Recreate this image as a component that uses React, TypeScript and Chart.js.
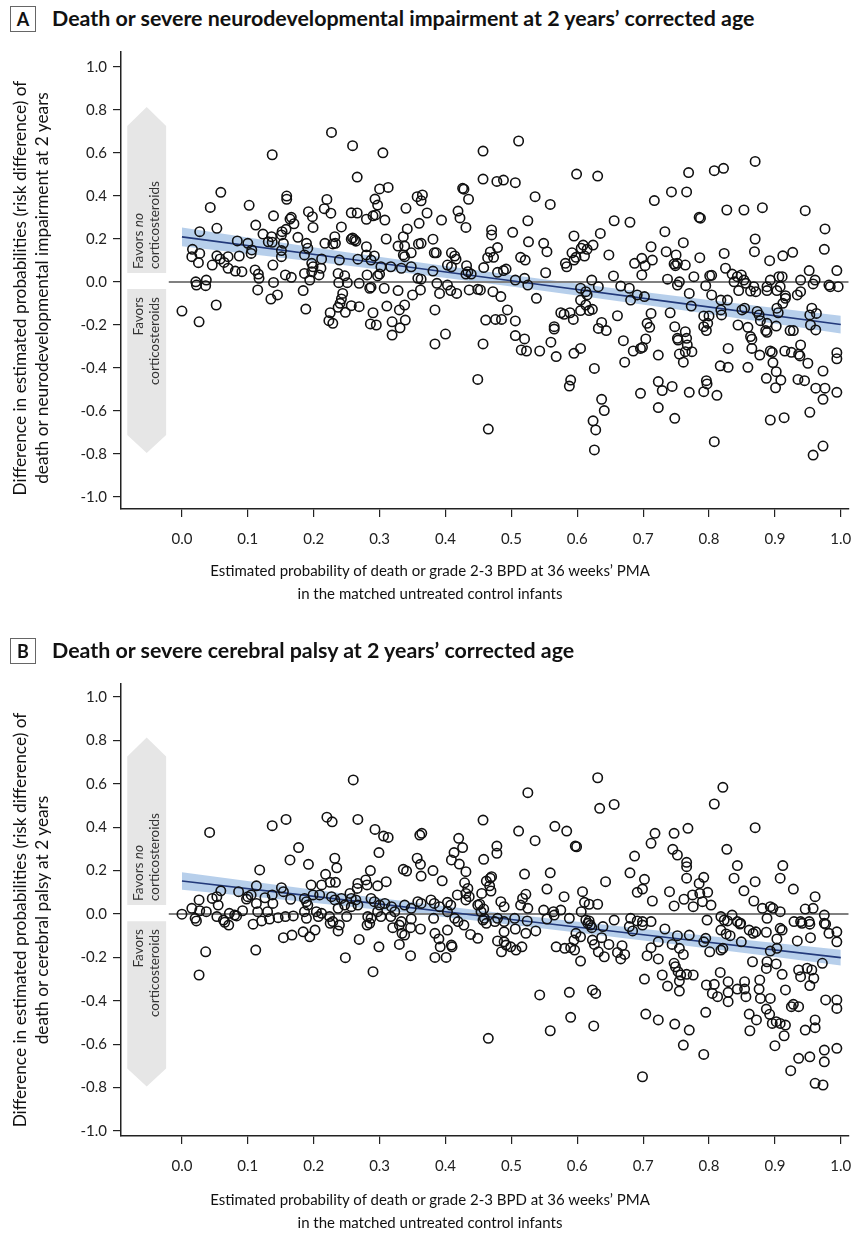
import React, { useEffect, useRef } from "react";
import { Chart, registerables } from "chart.js";

Chart.register(...registerables);

// ---------- axes ----------
const X_TICKS = [0, 0.1, 0.2, 0.3, 0.4, 0.5, 0.6, 0.7, 0.8, 0.9, 1.0];
const Y_TICKS = [-1.0, -0.8, -0.6, -0.4, -0.2, 0.0, 0.2, 0.4, 0.6, 0.8, 1.0];
const X_RANGE = [-0.0925, 1.012];
const ZERO_LINE_X = [-0.02, 1.012];

// ---------- favour arrows (value units) ----------
const ARROW_X = [-0.083, -0.024];
const UP_ARROW_Y = [0.042, 0.726, 0.814];
const DOWN_ARROW_Y = [-0.033, -0.712, -0.795];

// ---------- fitted lines & 95% bands ----------
const FIT_X = [0, 0.25, 0.5, 0.75, 1.0];
const A_FIT = [0.21, 0.108, 0.006, -0.096, -0.198];
const A_UPPER = [0.254, 0.139, 0.033, -0.065, -0.157];
const A_LOWER = [0.166, 0.077, -0.021, -0.127, -0.239];
const B_FIT = [0.152, 0.064, -0.025, -0.113, -0.201];
const B_UPPER = [0.192, 0.092, -0.001, -0.085, -0.165];
const B_LOWER = [0.112, 0.036, -0.049, -0.141, -0.237];

// ---------- panel A points (x = estimated probability, y = risk difference) ----------
const A_POINTS: [number, number][] = [
  [0.227,0.696],[0.259,0.634],[0.305,0.601],[0.137,0.592],[0.457,0.609],[0.266,0.488],[0.457,0.479],[0.478,0.468],[0.488,0.474],[0.059,0.417],
  [0.300,0.433],[0.313,0.440],[0.426,0.436],[0.428,0.432],[0.435,0.385],[0.159,0.400],[0.159,0.385],[0.220,0.384],[0.357,0.397],[0.365,0.405],
  [0.363,0.378],[0.043,0.347],[0.102,0.357],[0.216,0.341],[0.226,0.320],[0.293,0.386],[0.297,0.358],[0.192,0.327],[0.198,0.304],[0.257,0.322],
  [0.266,0.321],[0.340,0.343],[0.372,0.321],[0.419,0.330],[0.422,0.298],[0.139,0.308],[0.164,0.293],[0.166,0.301],[0.170,0.271],[0.280,0.292],
  [0.290,0.308],[0.294,0.312],[0.308,0.288],[0.394,0.288],[0.112,0.265],[0.053,0.250],[0.027,0.234],[0.199,0.254],[0.242,0.256],[0.360,0.273],
  [0.431,0.254],[0.342,0.247],[0.336,0.211],[0.470,0.242],[0.470,0.219],[0.123,0.223],[0.152,0.234],[0.158,0.245],[0.151,0.219],[0.136,0.211],
  [0.131,0.187],[0.137,0.185],[0.176,0.208],[0.259,0.205],[0.262,0.196],[0.257,0.199],[0.264,0.190],[0.232,0.211],[0.233,0.180],[0.229,0.177],
  [0.310,0.200],[0.084,0.191],[0.100,0.180],[0.106,0.149],[0.105,0.133],[0.154,0.180],[0.151,0.146],[0.151,0.118],[0.189,0.180],[0.191,0.157],
  [0.217,0.180],[0.280,0.164],[0.280,0.126],[0.328,0.167],[0.338,0.167],[0.336,0.126],[0.338,0.118],[0.348,0.136],[0.363,0.180],[0.359,0.177],
  [0.381,0.199],[0.383,0.136],[0.386,0.136],[0.409,0.136],[0.414,0.121],[0.416,0.106],[0.403,0.079],[0.409,0.071],[0.432,0.076],[0.434,0.048],
  [0.439,0.037],[0.431,0.037],[0.458,0.067],[0.468,0.140],[0.464,0.113],[0.473,0.115],[0.479,0.160],[0.479,0.045],[0.488,0.053],[0.492,0.060],
  [0.016,0.152],[0.027,0.133],[0.015,0.118],[0.025,0.090],[0.053,0.122],[0.058,0.107],[0.064,0.091],[0.046,0.079],[0.070,0.118],[0.087,0.121],
  [0.070,0.064],[0.081,0.051],[0.091,0.048],[0.111,0.056],[0.116,0.037],[0.117,0.017],[0.138,0.079],[0.157,0.033],[0.166,0.022],[0.186,0.126],
  [0.197,0.087],[0.199,0.071],[0.186,0.040],[0.197,0.048],[0.208,0.033],[0.212,0.107],[0.211,0.064],[0.239,0.102],[0.237,0.040],[0.247,0.029],
  [0.238,-0.003],[0.267,0.106],[0.281,0.033],[0.300,0.037],[0.297,0.028],[0.292,0.121],[0.287,0.102],[0.302,0.071],[0.317,0.071],[0.333,0.064],
  [0.348,0.071],[0.358,0.017],[0.363,0.013],[0.381,0.051],[0.021,0.001],[0.037,0.009],[0.036,-0.017],[0.022,-0.014],[0.139,-0.002],[0.115,-0.037],
  [0.145,-0.060],[0.135,-0.079],[0.184,-0.040],[0.194,0.009],[0.251,-0.003],[0.269,-0.006],[0.285,-0.029],[0.287,-0.024],[0.307,-0.029],[0.328,-0.040],
  [0.350,-0.060],[0.362,-0.037],[0.244,-0.053],[0.242,-0.079],[0.387,-0.006],[0.403,-0.014],[0.408,-0.040],[0.417,-0.053],[0.391,-0.053],[0.436,-0.037],
  [0.449,-0.034],[0.453,-0.037],[0.472,-0.045],[0.484,-0.068],
  [0.511,0.656],[0.599,0.502],[0.631,0.493],[0.506,0.462],[0.536,0.397],[0.559,0.361],[0.769,0.509],[0.808,0.518],[0.822,0.529],[0.870,0.561],
  [0.717,0.379],[0.743,0.419],[0.766,0.419],[0.785,0.301],[0.787,0.297],[0.827,0.335],[0.853,0.335],[0.881,0.346],[0.946,0.332],[0.525,0.285],
  [0.656,0.285],[0.680,0.278],[0.502,0.231],[0.733,0.234],[0.635,0.226],[0.595,0.214],[0.526,0.187],[0.549,0.180],[0.554,0.141],[0.609,0.172],
  [0.606,0.157],[0.624,0.172],[0.615,0.152],[0.592,0.136],[0.712,0.164],[0.761,0.183],[0.870,0.200],[0.976,0.247],[0.735,0.141],[0.750,0.126],
  [0.869,0.141],[0.927,0.138],[0.912,0.122],[0.975,0.152],[0.514,0.115],[0.521,0.102],[0.582,0.087],[0.584,0.071],[0.595,0.102],[0.598,0.115],
  [0.611,0.121],[0.648,0.126],[0.687,0.087],[0.698,0.110],[0.703,0.076],[0.714,0.102],[0.747,0.084],[0.749,0.076],[0.752,0.087],[0.764,0.079],
  [0.786,0.113],[0.823,0.133],[0.892,0.099],[0.552,0.043],[0.506,0.009],[0.520,0.017],[0.525,-0.014],[0.622,0.009],[0.632,-0.022],[0.605,-0.029],
  [0.613,-0.045],[0.655,0.028],[0.666,-0.019],[0.679,-0.029],[0.698,0.033],[0.737,0.013],[0.752,-0.014],[0.755,0.001],[0.777,0.025],[0.795,-0.017],
  [0.801,0.029],[0.804,0.031],[0.825,0.064],[0.835,0.037],[0.843,0.025],[0.849,0.033],[0.838,0.001],[0.853,0.009],[0.856,-0.006],[0.868,-0.022],
  [0.871,-0.045],[0.845,-0.040],[0.893,0.009],[0.888,-0.022],[0.906,0.025],[0.911,0.025],[0.908,-0.022],[0.916,-0.064],[0.939,0.009],[0.952,0.053],
  [0.961,0.009],[0.958,-0.009],[0.982,-0.014],[0.984,-0.022],[0.994,0.053],[0.996,-0.022],[0.934,-0.060],[0.939,-0.045],[0.538,-0.076],[0.605,-0.084],
  [0.615,-0.060],[0.681,-0.084],[0.702,-0.068],[0.691,-0.060],[0.770,-0.053],[0.818,-0.084],[0.828,-0.084],
  [0.506,-0.181],[0.613,-0.107],[0.605,-0.133],[0.618,-0.133],[0.623,-0.127],[0.575,-0.143],[0.580,-0.150],[0.589,-0.143],[0.594,-0.174],[0.565,-0.208],
  [0.565,-0.219],[0.506,-0.249],[0.520,-0.265],[0.515,-0.316],[0.523,-0.321],[0.543,-0.321],[0.560,-0.280],[0.568,-0.347],[0.595,-0.332],[0.605,-0.309],
  [0.632,-0.216],[0.644,-0.226],[0.637,-0.188],[0.661,-0.157],[0.626,-0.402],[0.590,-0.456],[0.588,-0.484],[0.637,-0.546],[0.641,-0.598],[0.624,-0.646],
  [0.628,-0.688],[0.626,-0.781],[0.670,-0.273],[0.672,-0.373],[0.685,-0.321],[0.696,-0.309],[0.699,-0.304],[0.704,-0.265],[0.706,-0.192],[0.710,-0.211],
  [0.712,-0.146],[0.741,-0.143],[0.748,-0.208],[0.723,-0.340],[0.723,-0.463],[0.729,-0.505],[0.744,-0.486],[0.696,-0.518],[0.723,-0.584],[0.748,-0.634],
  [0.752,-0.262],[0.753,-0.270],[0.764,-0.231],[0.766,-0.262],[0.767,-0.293],[0.755,-0.335],[0.761,-0.373],[0.764,-0.324],[0.774,-0.324],[0.773,-0.112],
  [0.804,-0.060],[0.818,-0.130],[0.819,-0.153],[0.792,-0.158],[0.800,-0.158],[0.792,-0.208],[0.796,-0.226],[0.798,-0.192],[0.770,-0.513],[0.792,-0.510],
  [0.796,-0.459],[0.797,-0.474],[0.812,-0.527],[0.808,-0.743],[0.817,-0.390],[0.829,-0.397],[0.829,-0.309],[0.844,-0.200],[0.850,-0.130],[0.854,-0.122],
  [0.859,-0.211],[0.863,-0.254],[0.865,-0.266],[0.865,-0.309],[0.859,-0.397],[0.863,-0.042],[0.888,-0.040],[0.903,-0.040],[0.873,-0.137],[0.876,-0.153],
  [0.878,-0.180],[0.888,-0.192],[0.886,-0.226],[0.888,-0.234],[0.902,-0.205],[0.903,-0.122],[0.905,-0.143],[0.912,-0.099],[0.916,-0.076],[0.877,-0.340],
  [0.893,-0.321],[0.896,-0.327],[0.897,-0.375],[0.902,-0.417],[0.909,-0.456],[0.887,-0.448],[0.901,-0.492],[0.893,-0.642],[0.914,-0.631],[0.923,-0.226],
  [0.928,-0.226],[0.915,-0.321],[0.925,-0.327],[0.936,-0.336],[0.938,-0.344],[0.939,-0.293],[0.950,-0.378],[0.953,-0.153],[0.956,-0.122],[0.963,-0.146],
  [0.962,-0.223],[0.954,-0.200],[0.935,-0.453],[0.945,-0.459],[0.962,-0.494],[0.976,-0.494],[0.973,-0.546],[0.973,-0.414],[0.994,-0.329],[0.994,-0.357],
  [0.994,-0.513],[0.953,-0.606],[0.958,-0.805],[0.973,-0.763],
  [0.000,-0.135],[0.026,-0.185],[0.052,-0.107],[0.188,-0.126],[0.225,-0.143],[0.223,-0.180],[0.229,-0.192],[0.237,-0.118],[0.240,-0.099],[0.248,-0.141],
  [0.257,-0.110],[0.269,-0.115],[0.290,-0.143],[0.286,-0.195],[0.295,-0.200],[0.311,-0.112],[0.319,-0.185],[0.319,-0.247],[0.331,-0.213],[0.330,-0.130],
  [0.338,-0.107],[0.339,-0.177],[0.384,-0.130],[0.384,-0.288],[0.400,-0.242],[0.461,-0.177],[0.476,-0.174],[0.485,-0.174],[0.494,-0.130],[0.457,-0.288],
  [0.449,-0.453],[0.465,-0.684],
];

// ---------- panel B points ----------
const B_POINTS: [number, number][] = [
  [0.260,0.618],[0.042,0.376],[0.137,0.407],[0.158,0.436],[0.220,0.446],[0.228,0.425],[0.267,0.436],[0.293,0.390],[0.306,0.359],[0.313,0.353],
  [0.457,0.433],[0.361,0.364],[0.364,0.372],[0.420,0.349],[0.426,0.306],[0.413,0.283],[0.409,0.249],[0.421,0.230],[0.431,0.195],[0.478,0.313],
  [0.478,0.280],[0.458,0.252],[0.177,0.306],[0.164,0.249],[0.192,0.229],[0.232,0.257],[0.235,0.213],[0.218,0.183],[0.225,0.146],[0.233,0.146],
  [0.299,0.283],[0.118,0.203],[0.286,0.200],[0.279,0.157],[0.281,0.134],[0.267,0.141],[0.266,0.118],[0.310,0.149],[0.297,0.130],[0.357,0.257],
  [0.362,0.229],[0.363,0.175],[0.336,0.206],[0.341,0.198],[0.381,0.200],[0.395,0.153],[0.429,0.144],[0.434,0.118],[0.431,0.095],[0.436,0.080],
  [0.431,0.065],[0.418,0.088],[0.403,0.054],[0.408,0.041],[0.462,0.152],[0.468,0.165],[0.470,0.172],[0.467,0.130],[0.469,0.106],[0.455,0.095],
  [0.452,0.045],[0.458,0.023],[0.484,0.057],[0.489,0.034],[0.059,0.107],[0.046,0.072],[0.053,0.080],[0.055,0.041],[0.026,0.065],[0.015,0.026],
  [0.027,0.015],[0.037,0.011],[0.000,-0.001],[0.020,-0.020],[0.022,-0.032],[0.086,0.103],[0.100,0.080],[0.098,0.069],[0.105,0.088],[0.113,0.130],
  [0.113,0.049],[0.126,0.075],[0.137,0.088],[0.138,0.049],[0.151,0.121],[0.154,0.103],[0.165,0.068],[0.130,0.011],[0.115,0.011],[0.092,0.015],
  [0.072,0.003],[0.063,-0.028],[0.080,-0.005],[0.186,0.072],[0.189,0.057],[0.191,0.041],[0.199,0.088],[0.209,0.088],[0.212,0.134],[0.196,0.134],
  [0.186,0.011],[0.204,0.011],[0.212,0.003],[0.227,0.080],[0.232,0.065],[0.242,0.072],[0.255,0.095],[0.257,0.072],[0.247,0.041],[0.237,0.026],
  [0.257,0.034],[0.267,0.041],[0.264,0.065],[0.287,0.072],[0.292,0.057],[0.300,0.041],[0.308,0.049],[0.318,0.034],[0.323,0.011],[0.297,0.011],
  [0.338,0.041],[0.348,0.026],[0.358,0.057],[0.363,0.049],[0.378,0.065],[0.383,0.049],[0.391,0.034],[0.403,0.011],[0.414,-0.020],[0.419,-0.035],
  [0.449,0.041],[0.454,0.011],[0.459,-0.020],[0.479,-0.020],[0.489,-0.035],
  [0.631,0.628],[0.821,0.584],[0.525,0.559],[0.634,0.487],[0.656,0.505],[0.808,0.507],[0.511,0.382],[0.536,0.338],[0.566,0.404],[0.584,0.382],
  [0.597,0.313],[0.599,0.310],[0.870,0.398],[0.718,0.372],[0.747,0.372],[0.768,0.395],[0.712,0.326],[0.745,0.298],[0.752,0.272],[0.687,0.267],
  [0.766,0.238],[0.766,0.218],[0.827,0.298],[0.843,0.223],[0.912,0.223],[0.908,0.165],[0.838,0.165],[0.870,0.149],[0.853,0.107],[0.928,0.115],
  [0.961,0.080],[0.520,0.184],[0.559,0.190],[0.554,0.115],[0.643,0.149],[0.680,0.190],[0.702,0.160],[0.699,0.115],[0.691,0.100],[0.714,0.060],
  [0.740,0.103],[0.766,0.165],[0.785,0.141],[0.792,0.169],[0.798,0.100],[0.786,0.095],[0.775,0.088],[0.762,0.068],[0.747,0.037],[0.776,0.034],
  [0.790,0.057],[0.803,0.041],[0.522,0.091],[0.517,0.072],[0.514,0.041],[0.525,0.026],[0.549,0.018],[0.564,0.011],[0.575,0.018],[0.580,0.080],
  [0.608,0.103],[0.611,0.054],[0.618,0.045],[0.631,0.045],[0.606,0.011],[0.868,0.060],[0.881,0.026],[0.893,0.034],[0.897,0.026],[0.908,0.011],
  [0.946,0.023],[0.958,0.026],[0.975,-0.005],[0.929,-0.035],[0.818,-0.012],[0.835,-0.005],[0.843,-0.035],[0.848,-0.043],[0.888,-0.020],[0.939,-0.035],
  [0.952,-0.035],[0.975,-0.043],[0.588,-0.020],[0.613,-0.028],[0.618,-0.032],[0.656,-0.028],[0.681,-0.020],[0.691,-0.032],[0.699,-0.035],[0.712,-0.035],
  [0.797,-0.028],[0.823,-0.028],
  [0.036,-0.174],[0.026,-0.281],[0.112,-0.166],[0.065,-0.038],[0.071,-0.051],[0.053,-0.012],[0.083,-0.009],[0.108,-0.047],[0.121,-0.032],[0.133,-0.023],
  [0.146,-0.017],[0.157,-0.012],[0.169,-0.009],[0.189,-0.020],[0.207,-0.012],[0.154,-0.109],[0.167,-0.097],[0.184,-0.082],[0.194,-0.105],[0.202,-0.074],
  [0.225,-0.043],[0.229,-0.035],[0.237,-0.078],[0.239,-0.051],[0.250,-0.012],[0.224,-0.012],[0.248,-0.201],[0.269,-0.117],[0.290,-0.266],[0.299,-0.151],
  [0.281,-0.051],[0.285,-0.043],[0.287,-0.020],[0.282,-0.012],[0.302,-0.012],[0.320,-0.063],[0.330,-0.051],[0.333,-0.035],[0.334,-0.089],[0.330,-0.140],
  [0.338,-0.097],[0.347,-0.063],[0.362,-0.069],[0.347,-0.192],[0.348,-0.023],[0.317,-0.012],[0.382,-0.020],[0.384,-0.089],[0.390,-0.115],[0.392,-0.151],
  [0.403,-0.074],[0.409,-0.143],[0.410,-0.151],[0.384,-0.200],[0.401,-0.200],[0.428,-0.051],[0.438,-0.094],[0.449,-0.112],[0.457,-0.028],[0.462,-0.043],
  [0.475,-0.035],[0.479,-0.124],[0.485,-0.174],[0.489,-0.082],[0.492,-0.143],[0.465,-0.573],
  [0.505,-0.020],[0.506,-0.069],[0.524,-0.032],[0.537,-0.078],[0.522,-0.089],[0.489,-0.128],[0.499,-0.151],[0.507,-0.166],[0.516,-0.151],[0.554,-0.023],
  [0.565,-0.005],[0.568,-0.151],[0.581,-0.158],[0.590,-0.155],[0.596,-0.166],[0.595,-0.120],[0.598,-0.089],[0.605,-0.105],[0.605,-0.217],[0.623,-0.120],
  [0.626,-0.140],[0.637,-0.109],[0.639,-0.058],[0.632,-0.174],[0.641,-0.197],[0.648,-0.140],[0.661,-0.177],[0.668,-0.146],[0.672,-0.186],[0.666,-0.207],
  [0.616,-0.043],[0.620,-0.051],[0.622,-0.063],[0.679,-0.058],[0.684,-0.078],[0.699,-0.051],[0.543,-0.373],[0.588,-0.361],[0.623,-0.350],[0.628,-0.366],
  [0.590,-0.476],[0.559,-0.538],[0.625,-0.516],[0.702,-0.300],[0.723,-0.207],[0.706,-0.192],[0.712,-0.155],[0.723,-0.128],[0.733,-0.069],[0.752,-0.100],
  [0.744,-0.140],[0.755,-0.158],[0.761,-0.186],[0.747,-0.227],[0.749,-0.243],[0.753,-0.266],[0.757,-0.281],[0.766,-0.278],[0.776,-0.281],[0.729,-0.281],
  [0.737,-0.332],[0.755,-0.309],[0.755,-0.355],[0.704,-0.461],[0.723,-0.488],[0.748,-0.507],[0.770,-0.535],[0.761,-0.604],[0.792,-0.647],[0.699,-0.750],
  [0.795,-0.453],[0.770,-0.097],[0.792,-0.128],[0.795,-0.112],[0.801,-0.174],[0.818,-0.166],[0.821,-0.158],[0.818,-0.074],[0.826,-0.092],[0.832,-0.100],
  [0.828,-0.032],[0.847,-0.046],[0.849,-0.128],[0.861,-0.074],[0.867,-0.089],[0.871,-0.082],[0.887,-0.084],[0.893,-0.171],[0.903,-0.158],[0.908,-0.066],
  [0.903,-0.115],[0.911,-0.074],[0.796,-0.327],[0.808,-0.324],[0.805,-0.366],[0.813,-0.381],[0.817,-0.269],[0.829,-0.312],[0.829,-0.361],[0.829,-0.404],
  [0.843,-0.346],[0.854,-0.346],[0.854,-0.312],[0.856,-0.381],[0.866,-0.220],[0.877,-0.304],[0.876,-0.346],[0.878,-0.389],[0.888,-0.220],[0.887,-0.251],
  [0.902,-0.230],[0.893,-0.389],[0.911,-0.278],[0.916,-0.350],[0.887,-0.438],[0.892,-0.462],[0.861,-0.461],[0.862,-0.538],[0.872,-0.488],[0.896,-0.504],
  [0.902,-0.496],[0.908,-0.504],[0.916,-0.512],[0.914,-0.561],[0.900,-0.607],[0.934,-0.124],[0.936,-0.258],[0.939,-0.289],[0.949,-0.250],[0.956,-0.258],
  [0.954,-0.109],[0.953,-0.330],[0.959,-0.296],[0.972,-0.227],[0.977,-0.047],[0.982,-0.089],[0.994,-0.082],[0.994,-0.128],[0.977,-0.396],[0.994,-0.435],
  [0.994,-0.396],[0.925,-0.427],[0.928,-0.416],[0.936,-0.427],[0.961,-0.488],[0.961,-0.524],[0.946,-0.535],[0.936,-0.665],[0.953,-0.658],[0.975,-0.627],
  [0.975,-0.681],[0.994,-0.619],[0.924,-0.722],[0.961,-0.780],[0.973,-0.788],[0.941,-0.043],[0.953,-0.047],
];

// ---------- text ----------
const X_TITLE = ["Estimated probability of death or grade 2-3 BPD at 36 weeks\u2019 PMA", "in the matched untreated control infants"];
const A_TITLE = "Death or severe neurodevelopmental impairment at 2 years\u2019 corrected age";
const B_TITLE = "Death or severe cerebral palsy at 2 years\u2019 corrected age";
const A_Y_TITLE = ["Difference in estimated probabilities (risk difference) of", "death or neurodevelopmental impairment at 2 years"];
const B_Y_TITLE = ["Difference in estimated probabilities (risk difference) of", "death or cerebral palsy at 2 years"];

const FONT = "Lato, 'Open Sans', sans-serif";
const CANVAS_W = 855;
const CANVAS_H = 620;

const arrowPlugin = {
  id: "favorArrows",
  beforeDatasetsDraw(chart: any) {
    const { ctx, scales } = chart;
    const x = scales.x, y = scales.y;
    const xl = x.getPixelForValue(ARROW_X[0]);
    const xr = x.getPixelForValue(ARROW_X[1]);
    const xm = (xl + xr) / 2;
    ctx.save();
    ctx.fillStyle = "#e6e6e6";
    const shape = (vals: number[]) => {
      const b = y.getPixelForValue(vals[0]);
      const t = y.getPixelForValue(vals[1]);
      const tip = y.getPixelForValue(vals[2]);
      ctx.beginPath();
      ctx.moveTo(xl, b);
      ctx.lineTo(xl, t);
      ctx.lineTo(xm, tip);
      ctx.lineTo(xr, t);
      ctx.lineTo(xr, b);
      ctx.closePath();
      ctx.fill();
    };
    shape(UP_ARROW_Y);
    shape(DOWN_ARROW_Y);

    const col1 = xm - 8;
    const col2 = xm + 8;
    const drawRot = (parts: [string, boolean][], px: number, py: number, align: "start" | "end") => {
      ctx.save();
      ctx.translate(px, py);
      ctx.rotate(-Math.PI / 2);
      ctx.textBaseline = "middle";
      ctx.textAlign = "left";
      ctx.fillStyle = "#333";
      let total = 0;
      const widths = parts.map(([t, it]) => {
        ctx.font = `${it ? "italic " : ""}13.5px ${FONT}`;
        const w = ctx.measureText(t).width;
        total += w;
        return w;
      });
      let cx = align === "start" ? 0 : -total;
      parts.forEach(([t, it], i) => {
        ctx.font = `${it ? "italic " : ""}13.5px ${FONT}`;
        ctx.fillText(t, cx, 0);
        cx += widths[i];
      });
      ctx.restore();
    };
    const upStart = y.getPixelForValue(0.06);
    drawRot([["Favors ", false], ["no", true]], col1, upStart, "start");
    drawRot([["corticosteroids", false]], col2, upStart, "start");
    const downEnd = y.getPixelForValue(-0.07);
    drawRot([["Favors", false]], col1, downEnd, "end");
    drawRot([["corticosteroids", false]], col2, downEnd, "end");
    ctx.restore();
  },
};

type PanelProps = {
  top: number;
  points: [number, number][];
  fit: number[];
  upper: number[];
  lower: number[];
  yMin: number;
  yMax: number;
  chartBottom: number;
};

function Panel({ top, points, fit, upper, lower, yMin, yMax, chartBottom }: PanelProps) {
  const ref = useRef<HTMLCanvasElement | null>(null);
  useEffect(() => {
    if (!ref.current) return;
    const tickFont = { family: FONT, size: 15 };
    const grid = {
      display: true,
      drawOnChartArea: false,
      drawTicks: true,
      tickLength: 8,
      color: "#222",
      lineWidth: 1.2,
    };
    const border = { display: true, color: "#222", width: 1.5 };
    const chart = new Chart(ref.current, {
      type: "scatter",
      data: {
        datasets: [
          {
            type: "scatter",
            data: points.map(([x, y]) => ({ x, y })),
            pointRadius: 4.7,
            pointBorderWidth: 1.6,
            pointBorderColor: "#111",
            pointBackgroundColor: "rgba(0,0,0,0)",
            order: 0,
          },
          {
            type: "line",
            data: FIT_X.map((x, i) => ({ x, y: fit[i] })),
            borderColor: "#22397a",
            borderWidth: 1.6,
            pointRadius: 0,
            tension: 0,
            fill: false,
            order: 1,
          },
          {
            type: "line",
            data: ZERO_LINE_X.map((x) => ({ x, y: 0 })),
            borderColor: "#808080",
            borderWidth: 2,
            pointRadius: 0,
            fill: false,
            order: 2,
          },
          {
            type: "line",
            data: FIT_X.map((x, i) => ({ x, y: upper[i] })),
            borderWidth: 0,
            borderColor: "rgba(0,0,0,0)",
            pointRadius: 0,
            cubicInterpolationMode: "monotone",
            fill: "+1",
            backgroundColor: "rgba(165,195,230,0.8)",
            order: 3,
          },
          {
            type: "line",
            data: FIT_X.map((x, i) => ({ x, y: lower[i] })),
            borderWidth: 0,
            borderColor: "rgba(0,0,0,0)",
            pointRadius: 0,
            cubicInterpolationMode: "monotone",
            fill: false,
            order: 4,
          },
        ],
      } as any,
      options: {
        responsive: false,
        animation: false,
        events: [],
        layout: { padding: { top: 52, right: 5, left: 0, bottom: 0 } },
        plugins: { legend: { display: false }, tooltip: { enabled: false } },
        scales: {
          x: {
            type: "linear",
            min: X_RANGE[0],
            max: X_RANGE[1],
            afterBuildTicks: (s: any) => {
              s.ticks = X_TICKS.map((v) => ({ value: v }));
            },
            afterFit: (s: any) => {
              s.height = CANVAS_H - chartBottom;
              s.paddingLeft = 0;
              s.paddingRight = 0;
            },
            ticks: {
              font: tickFont,
              color: "#222",
              padding: 13,
              maxRotation: 0,
              autoSkip: false,
              callback: (v: any) => Number(v).toFixed(1),
            },
            grid,
            border,
          },
          y: {
            type: "linear",
            min: yMin,
            max: yMax,
            afterBuildTicks: (s: any) => {
              s.ticks = Y_TICKS.map((v) => ({ value: v }));
            },
            afterFit: (s: any) => {
              s.width = 121;
              s.paddingTop = 0;
              s.paddingBottom = 0;
            },
            ticks: {
              font: tickFont,
              color: "#222",
              padding: 6,
              autoSkip: false,
              callback: (v: any) => Number(v).toFixed(1),
            },
            grid,
            border,
          },
        },
      } as any,
      plugins: [arrowPlugin],
    });
    return () => chart.destroy();
  }, []);
  return (
    <canvas
      ref={ref}
      width={CANVAS_W}
      height={CANVAS_H}
      style={{ position: "absolute", left: 0, top, width: CANVAS_W, height: CANVAS_H }}
    />
  );
}

function Header({ top, letter, text }: { top: number; letter: string; text: string }) {
  return (
    <>
      <div
        style={{
          position: "absolute",
          left: 10,
          top: top,
          width: 24,
          height: 24,
          border: "1px solid #666",
          fontFamily: FONT,
          fontWeight: 700,
          fontSize: 18,
          lineHeight: "24px",
          textAlign: "center",
          color: "#111",
        }}
      >
        {letter}
      </div>
      <div
        style={{
          position: "absolute",
          left: 52,
          top: top - 1,
          height: 26,
          fontFamily: FONT,
          fontWeight: 700,
          fontSize: 21.4,
          lineHeight: "26px",
          whiteSpace: "nowrap",
          color: "#111",
        }}
      >
        {text}
      </div>
    </>
  );
}

function YTitle({ centerY, lines }: { centerY: number; lines: string[] }) {
  const w = 560;
  const h = 44;
  return (
    <div
      style={{
        position: "absolute",
        left: 31 - w / 2,
        top: centerY - h / 2,
        width: w,
        height: h,
        transform: "rotate(-90deg)",
        transformOrigin: "50% 50%",
        fontFamily: FONT,
        fontSize: 17.3,
        lineHeight: "22px",
        textAlign: "center",
        whiteSpace: "nowrap",
        color: "#111",
      }}
    >
      {lines.map((l, i) => (
        <div key={i}>{l}</div>
      ))}
    </div>
  );
}

function XTitle({ top }: { top: number }) {
  return (
    <div
      style={{
        position: "absolute",
        left: 130,
        top,
        width: 600,
        fontFamily: FONT,
        fontSize: 15,
        lineHeight: "23px",
        textAlign: "center",
        whiteSpace: "nowrap",
        color: "#111",
      }}
    >
      {X_TITLE.map((l, i) => (
        <div key={i}>{l}</div>
      ))}
    </div>
  );
}

export default function App() {
  return (
    <div style={{ position: "absolute", left: 0, top: 0, width: 855, height: 1238, background: "#fff", overflow: "hidden" }}>
      <Header top={6} letter="A" text={A_TITLE} />
      <Panel top={0} points={A_POINTS} fit={A_FIT} upper={A_UPPER} lower={A_LOWER} yMin={-1.056} yMax={1.07} chartBottom={509} />
      <YTitle centerY={288} lines={A_Y_TITLE} />
      <XTitle top={559} />

      <Header top={638} letter="B" text={B_TITLE} />
      <Panel top={632} points={B_POINTS} fit={B_FIT} upper={B_UPPER} lower={B_LOWER} yMin={-1.023} yMax={1.06} chartBottom={504} />
      <YTitle centerY={920} lines={B_Y_TITLE} />
      <XTitle top={1188} />
    </div>
  );
}
